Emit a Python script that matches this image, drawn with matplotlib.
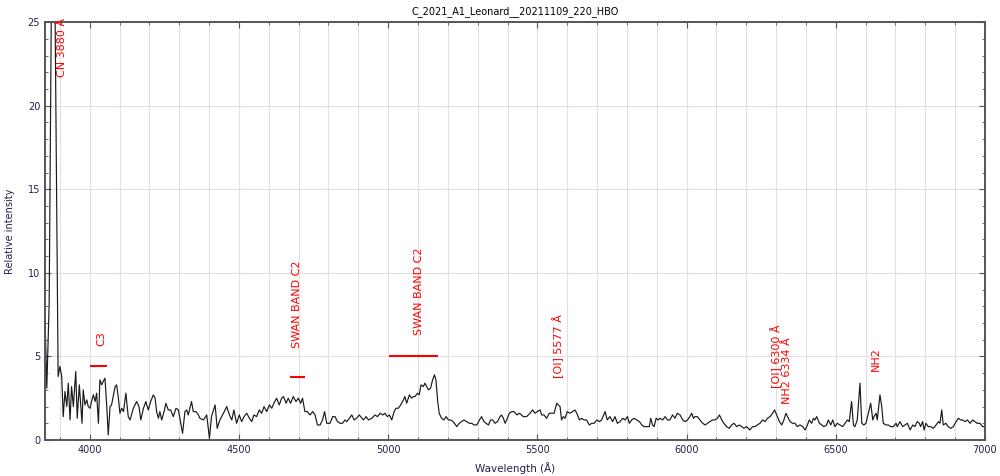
import matplotlib.pyplot as plt
from matplotlib.ticker import MultipleLocator

# spectrum (wavelength in Angstrom, relative intensity)
wavelength = [
    3850, 3856, 3864, 3877, 3894, 3900, 3906, 3911, 3917, 3923, 3928, 3934, 3939, 3945,
    3953, 3958, 3965, 3970, 3974, 3978, 3984, 3990, 3995, 4001, 4006, 4012, 4018, 4023,
    4029, 4034, 4040, 4045, 4051, 4057, 4062, 4068, 4073, 4085, 4090, 4096, 4101, 4107,
    4113, 4121, 4129, 4135, 4146, 4157, 4165, 4171, 4180, 4188, 4196, 4204, 4213, 4219,
    4224, 4230, 4235, 4241, 4249, 4255, 4263, 4271, 4280, 4289, 4297, 4305, 4311, 4319,
    4325, 4330, 4341, 4347, 4356, 4364, 4369, 4381, 4392, 4401, 4408, 4420, 4427, 4436,
    4448, 4459, 4468, 4476, 4483, 4492, 4501, 4509, 4517, 4526, 4535, 4543, 4550, 4559,
    4568, 4576, 4584, 4593, 4602, 4610, 4617, 4626, 4635, 4643, 4649, 4658, 4665, 4673,
    4682, 4691, 4699, 4707, 4713, 4721, 4729, 4738, 4747, 4755, 4763, 4772, 4780, 4787,
    4794, 4805, 4814, 4822, 4830, 4839, 4847, 4855, 4861, 4870, 4878, 4886, 4894, 4903,
    4917, 4926, 4934, 4945, 4956, 4964, 4973, 4982, 4989, 4997, 5004, 5012, 5020, 5026,
    5034, 5042, 5051, 5056, 5062, 5071, 5079, 5084, 5090, 5098, 5104, 5110, 5118, 5123,
    5129, 5135, 5142, 5149, 5155, 5160, 5166, 5171, 5179, 5187, 5194, 5202, 5209, 5218,
    5230, 5238, 5246, 5254, 5263, 5272, 5280, 5288, 5297, 5306, 5313, 5321, 5328, 5336,
    5343, 5350, 5358, 5366, 5375, 5380, 5386, 5392, 5397, 5406, 5414, 5422, 5431, 5440,
    5453, 5464, 5475, 5484, 5492, 5500, 5509, 5514, 5522, 5531, 5540, 5548, 5556, 5565,
    5570, 5576, 5581, 5587, 5593, 5600, 5609, 5618, 5626, 5632, 5641, 5649, 5656, 5665,
    5674, 5682, 5690, 5699, 5708, 5715, 5727, 5734, 5743, 5752, 5760, 5768, 5777, 5786,
    5794, 5802, 5808, 5816, 5824, 5833, 5842, 5850, 5857, 5866, 5875, 5880, 5886, 5891,
    5898, 5905, 5911, 5920, 5928, 5936, 5944, 5953, 5961, 5969, 5978, 5987, 5995, 6003,
    6011, 6017, 6023, 6028, 6036, 6045, 6054, 6062, 6070, 6078, 6087, 6095, 6103, 6110,
    6118, 6125, 6134, 6143, 6151, 6159, 6168, 6177, 6185, 6192, 6201, 6212, 6221, 6229,
    6237, 6246, 6255, 6263, 6271, 6280, 6288, 6295, 6302, 6311, 6319, 6326, 6333, 6341,
    6347, 6355, 6363, 6371, 6380, 6389, 6397, 6405, 6411, 6419, 6425, 6430, 6436, 6445,
    6453, 6460, 6469, 6475, 6483, 6490, 6497, 6505, 6514, 6523, 6531, 6539, 6545, 6553,
    6559, 6564, 6572, 6581, 6587, 6594, 6601, 6609, 6617, 6624, 6628, 6635, 6639, 6648,
    6654, 6659, 6668, 6676, 6684, 6693, 6702, 6706, 6715, 6724, 6732, 6740, 6749, 6758,
    6765, 6773, 6780, 6784, 6791, 6796, 6802, 6810, 6818, 6827, 6836, 6844, 6849, 6855,
    6860, 6869, 6877, 6885, 6894, 6903, 6911, 6918, 6925, 6933, 6941, 6950, 6959, 6966,
    6974, 6983, 6992, 7000,
]
intensity = [
    7.4, 3.1, 8.2, 40.0, 3.8, 4.4, 3.8, 1.4, 2.9, 2.0, 3.4, 1.2, 3.2, 2.0,
    4.1, 1.3, 3.3, 2.0, 1.0, 3.0, 2.1, 2.4, 2.0, 1.9, 2.3, 2.7, 2.3, 2.8,
    1.0, 3.6, 3.3, 3.5, 3.7, 2.0, 0.3, 2.0, 2.1, 3.2, 3.3, 2.5, 1.6, 1.9,
    1.7, 2.8, 1.4, 1.2, 1.9, 2.3, 2.0, 1.2, 1.9, 2.3, 1.8, 2.3, 2.7, 2.5,
    1.7, 1.3, 1.7, 1.2, 1.7, 2.2, 1.8, 1.8, 1.4, 1.9, 1.8, 1.0, 0.4, 1.7,
    1.8, 1.5, 2.3, 1.7, 1.7, 1.5, 1.3, 1.2, 1.5, 0.1, 1.4, 2.1, 0.7, 1.2,
    1.6, 2.0, 1.5, 1.2, 1.8, 1.0, 1.5, 1.1, 1.4, 1.6, 1.3, 1.1, 1.5, 1.4,
    1.8, 1.6, 2.0, 1.7, 2.1, 1.9, 2.2, 2.5, 2.1, 2.5, 2.6, 2.2, 2.5, 2.2,
    2.6, 2.3, 2.5, 2.2, 2.5, 1.7, 1.7, 1.5, 1.7, 1.5, 0.9, 0.9, 1.2, 1.7,
    1.0, 1.0, 1.4, 1.4, 1.1, 1.0, 1.0, 1.2, 1.1, 1.3, 1.5, 1.2, 1.3, 1.5,
    1.2, 1.4, 1.2, 1.3, 1.5, 1.4, 1.6, 1.5, 1.6, 1.4, 1.5, 1.2, 1.7, 1.9,
    1.9, 2.1, 2.4, 2.6, 2.2, 2.7, 2.5, 2.6, 2.6, 2.8, 2.7, 3.3, 3.2, 3.4,
    3.2, 3.0, 3.1, 3.6, 3.9, 3.6, 2.3, 1.6, 1.3, 1.2, 1.4, 1.2, 1.2, 1.1,
    0.8, 1.0, 1.1, 1.2, 1.1, 1.0, 1.0, 0.9, 0.9, 1.2, 1.4, 1.1, 1.0, 0.9,
    1.2, 1.2, 1.0, 1.1, 1.4, 1.5, 1.3, 1.0, 1.2, 1.6, 1.7, 1.7, 1.5, 1.6,
    1.4, 1.4, 1.6, 1.8, 1.6, 1.7, 1.8, 1.5, 1.5, 1.3, 1.6, 1.6, 1.6, 2.2,
    2.1, 2.0, 1.2, 1.4, 1.3, 1.7, 1.6, 1.7, 1.8, 1.6, 1.2, 1.3, 1.2, 1.2,
    0.9, 1.0, 1.0, 1.2, 1.1, 1.2, 1.7, 1.2, 1.4, 1.1, 1.4, 1.0, 1.1, 1.3,
    1.2, 1.4, 1.0, 1.2, 1.3, 1.2, 1.1, 0.9, 0.8, 0.8, 0.8, 1.3, 0.9, 0.8,
    1.3, 1.2, 1.3, 1.2, 1.4, 1.2, 1.2, 1.5, 1.3, 1.6, 1.5, 1.2, 1.1, 1.2,
    1.4, 1.6, 1.3, 1.4, 1.4, 1.2, 1.0, 0.9, 1.0, 1.1, 1.2, 1.2, 1.3, 1.5,
    1.2, 1.0, 0.8, 0.7, 0.9, 1.0, 0.8, 0.9, 0.8, 0.7, 0.8, 0.6, 0.8, 0.8,
    0.9, 1.0, 1.2, 1.1, 1.3, 1.4, 1.6, 1.8, 1.5, 1.1, 0.9, 1.2, 1.6, 1.3,
    1.1, 1.0, 1.0, 0.8, 0.9, 0.8, 0.6, 0.9, 1.2, 1.0, 1.3, 1.2, 1.4, 1.0,
    0.9, 0.8, 0.9, 1.2, 0.9, 1.2, 0.8, 1.0, 0.9, 0.8, 1.0, 1.2, 1.1, 2.3,
    0.9, 0.8, 1.2, 3.4, 1.0, 0.9, 1.0, 1.6, 2.2, 1.2, 1.4, 1.6, 1.2, 2.7,
    2.0, 1.0, 0.9, 0.9, 0.8, 0.8, 1.0, 0.8, 1.1, 0.8, 0.9, 1.0, 0.6, 0.9,
    0.8, 1.1, 1.0, 0.8, 1.1, 0.6, 1.0, 0.8, 0.8, 0.7, 0.9, 1.1, 1.0, 1.8,
    0.9, 1.0, 0.8, 0.7, 0.8, 1.1, 1.3, 1.2, 1.2, 1.1, 1.2, 1.0, 1.2, 1.1,
    1.0, 1.0, 0.8, 0.8,
]

# line identifications: label, wavelength, bottom of the text
line_labels = ["CN 3880 Å", "C3", "SWAN BAND C2", "SWAN BAND C2",
               "[OI] 5577 Å", "[OI] 6300 Å", "NH2 6334 Å", "NH2"]
line_label_x = [3906, 4038, 4694, 5103, 5569, 6299, 6338, 6635]
line_label_y = [21.7, 5.6, 5.5, 6.3, 3.7, 3.1, 2.15, 4.1]

# band markers: start, end, level
band_start = [4001, 4671, 5003]
band_end = [4058, 4721, 5167]
band_level = [4.43, 3.77, 5.0]

fig = plt.figure(figsize=(10, 4.76), dpi=100)
ax = fig.add_axes([0.045, 0.0756, 0.94, 0.878])

ax.plot(wavelength, intensity, color="#1a1a1a", lw=0.85)

for x0, x1, y in zip(band_start, band_end, band_level):
    ax.hlines(y, x0, x1, color="red", lw=1.5)
for lab, x, y in zip(line_labels, line_label_x, line_label_y):
    ax.text(x, y, lab, color="red", rotation=90, ha="center", va="bottom", fontsize=8)

ax.set_xlim(3850, 7000)
ax.set_ylim(0, 25)
ax.xaxis.set_major_locator(MultipleLocator(500))
ax.xaxis.set_minor_locator(MultipleLocator(100))
ax.yaxis.set_major_locator(MultipleLocator(5))
ax.yaxis.set_minor_locator(MultipleLocator(1))
ax.grid(True, which="major", color="#e0e0e0", lw=0.8)
ax.grid(True, which="minor", axis="x", color="#e0e0e0", lw=0.8)
ax.set_axisbelow(True)
ax.tick_params(which="both", direction="in", top=True, right=True,
               labelsize=7, labelcolor="#222244", color="#555555")
ax.tick_params(which="major", length=4)
ax.tick_params(which="minor", length=2)
for s in ax.spines.values():
    s.set_color("#555555")
    s.set_linewidth(1.4)

ax.set_title("C_2021_A1_Leonard__20211109_220_HBO", fontsize=7, pad=6)
ax.set_xlabel("Wavelength (Å)", fontsize=7.5, color="#222244", labelpad=5)
ax.set_ylabel("Relative intensity", fontsize=7, color="#222244", labelpad=9)

fig.savefig("out.png", dpi=100)
